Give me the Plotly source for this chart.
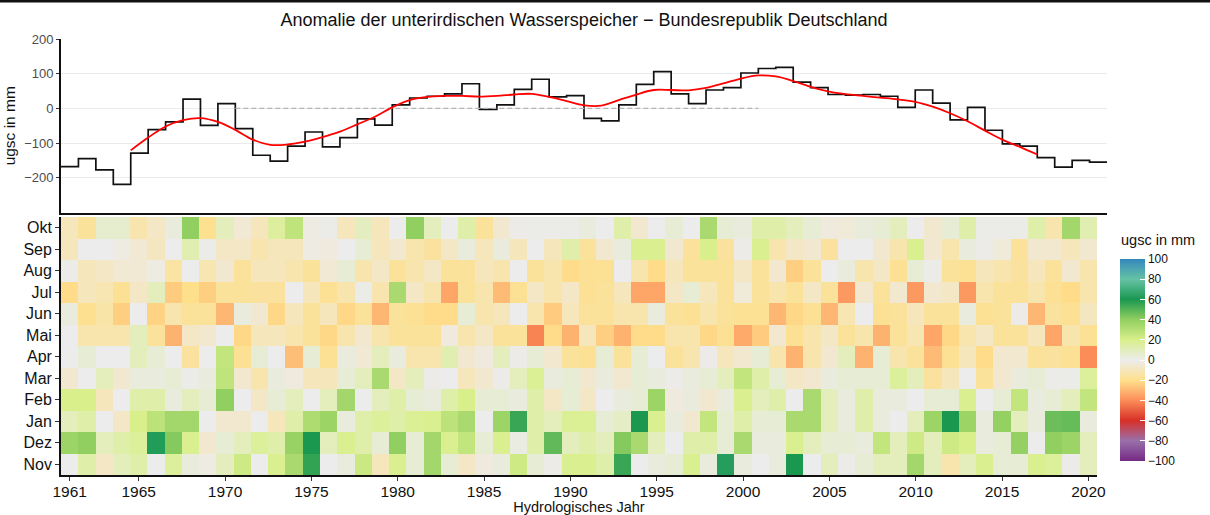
import plotly.graph_objects as go

# Hydrological years and month order (November starts the hydrological year)
years = list(range(1961, 2021))
months = ["Nov", "Dez", "Jan", "Feb", "Mar", "Apr", "Mai", "Jun", "Jul", "Aug", "Sep", "Okt"]

# Annual groundwater storage anomaly (ugsc, mm)
annual_ugsc = [-168, -145, -177, -219, -129, -61, -39, 27, -49, 14,
               -58, -135, -152, -109, -68, -111, -84, -30, -48, 10,
               30, 35, 42, 71, -3, 10, 55, 84, 33, 37,
               -29, -36, 10, 69, 106, 42, 14, 53, 60, 102,
               115, 118, 76, 60, 40, 38, 40, 35, 3, 53,
               15, -33, 3, -63, -102, -109, -142, -169, -150, -155]

# Smoothed trend of the annual anomaly
trend_years = list(range(1965, 2018))
trend_ugsc = [-121, -84, -52, -34, -28, -39, -62, -90, -105, -104,
              -96, -83, -67, -46, -24, 3, 24, 33, 36, 36,
              34, 36, 40, 42, 33, 21, 9, 8, 24, 40,
              53, 53, 52, 59, 72, 86, 95, 92, 79, 62,
              49, 41, 36, 31, 26, 19, 5, -14, -37, -64,
              -90, -111, -133]

# Reference period drawn as the zero line
ref_period = (1971, 2000)

# Monthly anomalies (mm), one list per month, years 1961..2020
nov = [0, 14, -8, 10, 14, 0, 17, 3, -2, 10, 23, 0, 19, 33, 56, 0, 3, 24, -10,
       19, 5, 35, 5, -8, -3, 3, 23, 5, -1, 19, 19, 14, 55, 0, 3, 5, 19, 3, 63, 3, 0,
       3, 60, 0, 10, -1, 5, 10, 10, 35, 10, -13, 10, 19, 5, 5, 19, 17, -1, 10]
dez = [37, 40, 10, 14, 17, 62, 42, 19, -6, 5, 10, 17, 14, 38, 60, 10, 19, 14, 5,
       40, 5, 35, 19, 26, 5, 19, 2, 14, 48, 10, 14, 10, 42, 33, 10, 0, 14, 14, 5, 33, 3,
       3, 19, 10, 5, 5, 3, 26, 10, 23, 10, 23, 20, 3, 5, 39, 0, 40, 37, 10]
jan = [10, 14, 0, -8, 20, 28, 35, 35, 0, -6, -6, 0, -10, 14, 32, 37, 3, 14, 17,
       14, 18, 19, 28, 33, 0, 37, 55, 14, 10, 18, 18, 5, 8, 60, 19, 3, -6, 26, 5, 14, 5,
       5, 33, 33, 10, 3, 14, 3, 0, 10, 37, 60, 37, 3, 39, 10, 3, 46, 47, 3]
feb = [20, 20, -10, 0, 14, 14, 3, 10, 5, 40, 0, -8, 5, 10, 0, 10, 35, 0, 10,
       14, 5, 3, 14, 20, 5, 5, 3, 14, -8, 5, -8, 0, 3, 5, 37, -3, 3, -6, 3, 19, 10,
       14, 0, 33, 10, 3, 14, 3, 3, 0, 5, 5, 19, 0, 5, 26, 3, 5, 10, 26]
mar = [-6, 0, 10, -6, 3, 3, 5, 1, 3, 27, -6, -13, 3, -3, -10, -10, 5, 10, 33,
       -8, 10, -1, 0, -10, -6, -1, 10, 18, 3, 5, -6, 3, -6, 5, 3, -1, 3, 5, 10, 26, 14,
       5, -8, -6, 3, 5, 5, 5, 17, 10, -16, -10, 0, -17, -6, 3, 5, -1, 1, 17]
apr = [0, 5, 0, 0, 10, 5, 0, -16, 0, 26, -18, 5, 0, -28, 5, -18, 3, -5, 10,
       3, -13, -13, 12, -6, -3, 10, -1, 5, -6, -17, -18, 5, -17, 5, 0, -17, -13, -1, -10, -6, 5,
       -13, -31, -13, -6, 10, -31, 5, -13, -17, -29, -18, -10, -21, -6, -6, -17, -16, -18, -40]
mai = [0, -13, -13, -13, 10, -17, -31, -8, -6, 0, -22, -10, -10, -13, -17, -22, -13, -6, -13,
       -17, -17, -17, -3, -13, -8, -17, -17, -42, -21, -31, -10, -24, -31, -21, -21, -13, -13, -22, -18, -33, -25,
       -6, -18, -13, -8, -17, -13, -31, -17, -12, -34, -22, -13, -8, -17, -17, -10, -34, -13, -18]
jun = [3, -19, -14, -24, 0, -23, -13, -17, -17, -30, 3, -6, -22, -10, -17, -10, -22, -17, -30,
       -17, -18, -21, -21, 5, -13, -10, 0, -13, -25, -10, -17, -17, -13, -13, 3, -17, -18, -13, -17, -18, -18,
       -30, -22, -18, -30, -12, 0, -18, -17, -10, -17, -17, 3, -18, -17, -1, -30, -16, -18, -9]
jul = [-21, -10, -12, -18, -8, 10, -25, -20, -24, -17, -17, -16, -16, 0, -10, -18, -13, 1, -13,
       33, -8, -13, -34, -17, -13, -29, -18, -8, -13, -8, -18, -17, -10, -34, -34, -8, 5, -10, -17, -4, -17,
       -13, -17, -8, -17, -37, -6, -17, -6, -37, -6, -8, -37, -13, -17, -17, -13, -18, -21, -13]
aug = [1, -10, -8, -5, -5, -2, -15, 0, -12, -6, -17, -10, -10, -13, -17, -5, 5, -13, -8,
       -17, -13, -8, -17, -17, -10, -13, 0, -17, -13, -21, -18, -18, 0, -13, -21, -10, -17, -17, -17, -8, -17,
       -6, -24, -17, 0, 3, -13, -8, -18, 5, 1, -17, -18, -10, -13, -16, -10, -17, -6, -13]
sep = [-10, 0, 0, -2, -5, -9, 0, 12, 1, -8, -8, -13, -10, -10, -2, -3, 0, 5, -10,
       -6, -13, -16, -8, 3, -10, 3, -10, 0, -10, 14, -17, -6, 3, 19, 19, -6, -17, 20, -16, -1, 19,
       -13, -8, -6, -16, 0, 0, -6, -13, 19, -6, -13, 3, -1, -4, -17, -6, -6, -10, -6]
okt = [-10, -17, 6, 6, -13, -8, 3, 40, -19, 10, -5, -10, 16, 27, -2, 1, -10, 9, -10,
       0, 40, 10, 0, 14, -17, -6, -1, 1, 1, 1, 3, 0, 14, -6, 0, 5, 0, 33, 5, 3, 14,
       14, 10, 5, -3, -4, 3, 5, 10, 0, -6, 5, 14, 1, 1, 1, 14, -13, 35, 12]

monthly = [nov, dez, jan, feb, mar, apr, mai, jun, jul, aug, sep, okt]

year_ticks = [1961, 1965, 1970, 1975, 1980, 1985, 1990, 1995, 2000, 2005, 2010, 2015, 2020]
ugsc_ticks = [-200, -100, 0, 100, 200]
legend_ticks = list(range(-100, 101, 20))

palette = ["#762a83", "#9970ab", "#d73027", "#fc8d59", "#fee08b", "#ececec",
           "#d9ef8b", "#91cf60", "#1a9850", "#66c2a5", "#3288bd"]
colorscale = [[i / (len(palette) - 1), c] for i, c in enumerate(palette)]

FONT = "Liberation Sans, Arial, sans-serif"
INK = "#111111"

# Plot area in pixels: left 61, width 1046; top 39, height 436
PLOT_L, PLOT_W, PLOT_B, PLOT_H = 61, 1046, 475, 436


def px_x(px):
    return (px - PLOT_L) / PLOT_W


def px_y(py):
    return (PLOT_B - py) / PLOT_H


def minus(v):
    return str(v).replace("-", "\u2212")


fig = go.Figure()

# Annual anomaly as steps, the last step closed one year later
fig.add_trace(go.Scatter(
    x=years + [years[-1] + 1], y=annual_ugsc + [annual_ugsc[-1]],
    mode="lines", line=dict(shape="hv", color=INK, width=1.7),
    xaxis="x", yaxis="y", showlegend=False, hoverinfo="skip"))

# Zero line over the reference period
fig.add_trace(go.Scatter(
    x=[ref_period[0], ref_period[1] + 1], y=[0, 0],
    mode="lines", line=dict(color="#b3b3b3", width=1.4, dash="5px,3px"),
    xaxis="x", yaxis="y", showlegend=False, hoverinfo="skip"))

# Smoothed trend
fig.add_trace(go.Scatter(
    x=trend_years, y=trend_ugsc, mode="lines",
    line=dict(shape="spline", smoothing=1.0, color="#ff0000", width=1.8),
    xaxis="x", yaxis="y", showlegend=False, hoverinfo="skip"))

# Monthly anomalies
fig.add_trace(go.Heatmap(
    x=years, y=months, z=monthly,
    colorscale=colorscale, zmin=-100, zmax=100,
    xaxis="x2", yaxis="y2", hoverinfo="skip",
    colorbar=dict(
        x=px_x(1120), xanchor="left", xpad=0,
        y=px_y(461), yanchor="bottom", ypad=0,
        len=(461 - 259) / PLOT_H, lenmode="fraction", thickness=25,
        outlinewidth=0,
        tickmode="array", tickvals=legend_ticks, ticktext=[minus(v) for v in legend_ticks],
        ticks="inside", ticklen=5, tickcolor="white",
        tickfont=dict(size=12, color=INK, family=FONT),
    )))

fig.update_layout(
    width=1210, height=515,
    margin=dict(l=PLOT_L, r=1210 - PLOT_L - PLOT_W, t=PLOT_B - PLOT_H, b=515 - PLOT_B),
    paper_bgcolor="white", plot_bgcolor="white",
    font=dict(family=FONT, color=INK),
    title=dict(text="Anomalie der unterirdischen Wasserspeicher \u2212 Bundesrepublik Deutschland",
               x=0.5, xref="paper", xanchor="center",
               y=1 - 20 / 515, yref="container", yanchor="middle",
               font=dict(size=18, color=INK, family=FONT)),
    xaxis=dict(domain=[0, 1], range=[years[0], years[-1] + 1], anchor="y",
               showticklabels=False, ticks="", showgrid=False, zeroline=False,
               showline=True, linecolor=INK, linewidth=1.8, automargin=False),
    yaxis=dict(domain=[px_y(212.5), 1], range=[-300, 200], anchor="x",
               tickmode="array", tickvals=ugsc_ticks, ticktext=[minus(v) for v in ugsc_ticks],
               ticks="outside", ticklen=3, tickcolor="#333333",
               tickfont=dict(size=13, color="#4d4d4d", family=FONT),
               showgrid=True, gridcolor="#ebebeb", gridwidth=1, zeroline=False,
               showline=True, linecolor=INK, linewidth=1.8, automargin=False,
               title=dict(text="ugsc in mm", font=dict(size=15.5, color=INK, family=FONT), standoff=5)),
    xaxis2=dict(domain=[0, 1036 / PLOT_W], range=[years[0] - 0.5, years[-1] + 0.5], anchor="y2",
                tickmode="array", tickvals=year_ticks,
                ticks="outside", ticklen=4, tickcolor="#333333",
                tickfont=dict(size=15.5, color=INK, family=FONT), ticklabelstandoff=-3,
                showgrid=False, zeroline=False, automargin=False,
                showline=True, linecolor=INK, linewidth=1.8,
                title=dict(text="Hydrologisches Jahr", font=dict(size=14.5, color=INK, family=FONT), standoff=0)),
    yaxis2=dict(domain=[0, px_y(217)], anchor="x2", type="category",
                categoryorder="array", categoryarray=months,
                ticks="outside", ticklen=4, tickcolor="#333333",
                tickfont=dict(size=16, color=INK, family=FONT),
                showgrid=False, zeroline=False, automargin=False,
                showline=True, linecolor=INK, linewidth=1.8),
    annotations=[dict(text="ugsc in mm", xref="paper", yref="paper",
                      x=px_x(1119), y=px_y(240), xanchor="left", yanchor="middle",
                      showarrow=False, font=dict(size=14.5, color=INK, family=FONT))],
    shapes=[dict(type="rect", xref="paper", yref="paper",
                 x0=px_x(0), x1=px_x(1210), y0=px_y(2.5), y1=px_y(0),
                 fillcolor=INK, line=dict(width=0), layer="above")],
)

fig.write_html("out.html")
